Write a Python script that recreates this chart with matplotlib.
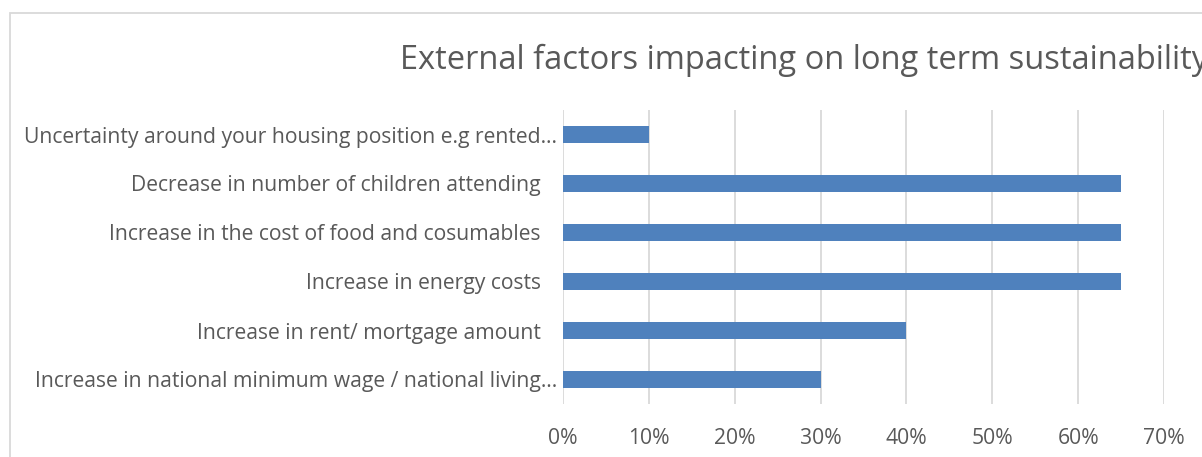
import matplotlib.pyplot as plt
from matplotlib.patches import Rectangle
from matplotlib.ticker import PercentFormatter

# bottom to top, as drawn
factors = [
    "Increase in national minimum wage / national living\u2026",
    "Increase in rent/ mortgage amount   ",
    "Increase in energy costs   ",
    "Increase in the cost of food and cosumables   ",
    "Decrease in number of children attending   ",
    "Uncertainty around your housing position e.g rented\u2026",
]
shares = [30, 40, 65, 65, 65, 10]
x_ticks = [0, 10, 20, 30, 40, 50, 60, 70]

TEXT = "#595959"
GRID = "#D9D9D9"
BAR = "#4F81BD"

plt.rcParams["font.family"] = ["Open Sans", "DejaVu Sans"]

W, H = 1202, 457
fig = plt.figure(figsize=(W / 100, H / 100), dpi=100)

# chart-area border (runs off the right/bottom edges)
fig.patches.append(Rectangle((10 / W, -0.1), 1.2, 1 - 13 / H + 0.1,
                             transform=fig.transFigure, fill=False,
                             edgecolor=GRID, linewidth=1.3))

ax = fig.add_axes([563 / W, 1 - 404 / H, (1164 - 563) / W, (404 - 110) / H])
ax.barh(range(len(factors)), shares, height=0.35, color=BAR, zorder=3)
ax.set_xlim(0, 70)
ax.set_ylim(-0.5, len(factors) - 0.5)
ax.set_xticks(x_ticks)
ax.xaxis.set_major_formatter(PercentFormatter(decimals=0))
ax.set_yticks(range(len(factors)))
ax.set_yticklabels(factors)
ax.grid(axis="x", color=GRID, linewidth=1.3, zorder=0)
for s in ax.spines.values():
    s.set_visible(False)
ax.tick_params(axis="both", length=0, colors=TEXT, labelsize=15.2)
ax.tick_params(axis="x", pad=17)
ax.tick_params(axis="y", pad=4)
ax.set_facecolor("none")

# title runs past the right edge, as in the original screenshot
fig.text(400 / W, 1 - 60 / H, "External factors impacting on long term sustainability",
         ha="left", va="center", fontsize=23.5, color=TEXT)

fig.savefig("out.png", dpi=100)
